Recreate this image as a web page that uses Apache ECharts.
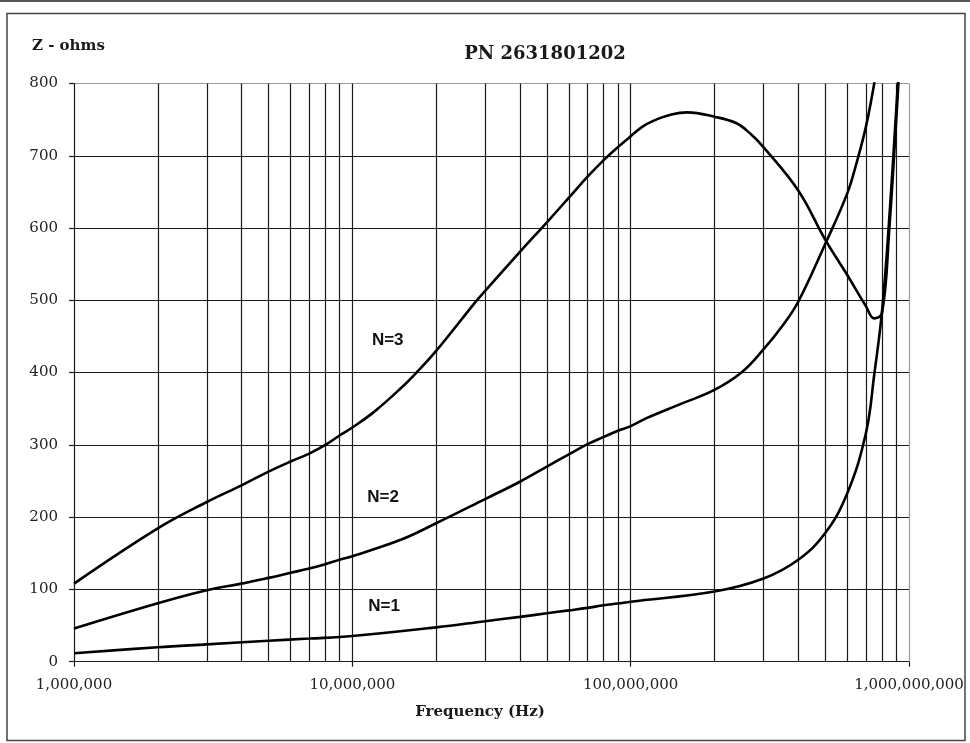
<!DOCTYPE html>
<html>
<head>
<meta charset="utf-8">
<script src="https://cdn.jsdelivr.net/npm/echarts@6/dist/echarts.min.js"></script>
<style>
  html, body { margin: 0; padding: 0; background: #fff; }
  #chart { width: 970px; height: 743px; }
</style>
</head>
<body>
<div id="chart"></div>
<script>
// Impedance vs frequency for 1, 2 and 3 turns through the core
const chartTitle = 'PN 2631801202';
const yAxisTitle = 'Z - ohms';
const xAxisTitle = 'Frequency (Hz)';

const freqN1 = [1e6, 2e6, 3e6, 5e6, 7e6, 1e7, 2e7, 3e7, 4e7, 5e7, 6e7, 7e7, 8e7, 9e7, 1e8, 2e8, 3e8, 4e8, 5e8, 6e8, 7e8, 7.5e8, 8e8, 8.5e8, 9e8, 9.3e8];
const zN1    = [11.6, 20, 24, 29, 32, 35.5, 47.5, 56, 62, 67, 71, 74.5, 78, 80.5, 83, 97, 115, 141, 178, 233, 316, 397, 485, 615, 765, 850];

const freqN2 = [1e6, 2e6, 3e6, 4e6, 5e6, 6e6, 7e6, 8e6, 9e6, 1e7, 1.5e7, 2e7, 3e7, 4e7, 5e7, 6e7, 7e7, 8e7, 9e7, 1e8, 1.14e8, 1.5e8, 2e8, 2.5e8, 3e8, 3.5e8, 4e8, 5e8, 6e8, 6.5e8, 7e8, 7.5e8, 7.8e8];
const zN2    = [46, 81, 99, 108, 116, 123, 129, 135, 141, 146, 169, 191.5, 225, 249, 270, 287, 301, 311, 319.5, 326, 337, 356, 376, 400, 432, 464, 498, 578, 648, 692, 740, 800, 845];

const freqN3 = [1e6, 2e6, 3e6, 4e6, 5e6, 6e6, 7e6, 8e6, 9e6, 1e7, 1.2e7, 1.5e7, 1.7e7, 2e7, 2.8e7, 3e7, 4e7, 5e7, 6e7, 7e7, 8e7, 9e7, 1e8, 1.1e8, 1.2e8, 1.4e8, 1.6e8, 2e8, 2.4e8, 2.7e8, 3e8, 4e8, 5e8, 6e8, 7e8, 7.5e8, 8e8, 8.5e8, 9e8, 9.3e8];
const zN3    = [108, 184.5, 221, 244, 263, 277, 288, 300, 313, 324, 346, 379, 400, 430, 500, 513, 567, 608, 642, 671, 694, 712, 727, 740, 748, 757, 760, 754, 745, 730, 712, 652, 584, 535, 492, 475, 482, 600, 750, 845];

// Curve annotations [frequency, impedance, text]
const curveNotes = [
  [1.34e7, 445, 'N=3'],
  [1.29e7, 228, 'N=2'],
  [1.30e7, 76, 'N=1']
];

const yMin = 0, yMax = 800, yStep = 100;
const xMin = 1e6, xMax = 1e9;

// Vertical grid: every 1..9 x 10^n inside the range, the last edge drawn lighter
const verticalGrid = [];
for (let d = xMin; d < xMax; d *= 10) {
  for (let k = 1; k <= 9; k++) {
    if (k * d > xMin) verticalGrid.push({ xAxis: k * d });
  }
}
verticalGrid.push({ xAxis: xMax, lineStyle: { color: '#9a9a9a' } });

const pairs = (fs, zs) => fs.map((f, i) => [f, zs[i]]);

const serifFont = '"DejaVu Serif", "Liberation Serif", serif';
const ink = '#1a1a1a';

const curveStyle = {
  type: 'line',
  smooth: 0.4,
  showSymbol: false,
  symbol: 'none',
  clip: true,
  silent: true,
  lineStyle: { color: '#000', width: 2.6 },
  emphasis: { disabled: true },
  animation: false,
  z: 3
};

function noteFor(idx) {
  const n = curveNotes[idx];
  return {
    silent: true,
    animation: false,
    symbol: 'circle',
    symbolSize: 1,
    itemStyle: { color: 'rgba(0,0,0,0)' },
    label: {
      show: true,
      position: 'inside',
      formatter: n[2],
      fontFamily: '"Liberation Sans", Arial, sans-serif',
      fontWeight: 'bold',
      fontSize: 17,
      color: '#111'
    },
    data: [{ coord: [n[0], n[1]], value: n[2] }]
  };
}

const chart = echarts.init(document.getElementById('chart'), null, { renderer: 'canvas' });

chart.setOption({
  backgroundColor: '#fff',
  animation: false,
  title: [
    {
      text: chartTitle,
      left: 540,
      top: 40,
      textAlign: 'center',
      textStyle: { fontFamily: serifFont, fontWeight: 'bold', fontSize: 18, color: ink }
    },
    {
      text: yAxisTitle,
      left: 27,
      top: 34,
      textStyle: { fontFamily: serifFont, fontWeight: 'bold', fontSize: 15, color: ink }
    }
  ],
  grid: { left: 74, right: 61, top: 83.5, bottom: 81.3, containLabel: false },
  xAxis: {
    type: 'log',
    logBase: 10,
    min: xMin,
    max: xMax,
    name: xAxisTitle,
    nameLocation: 'middle',
    nameGap: 43,
    nameTextStyle: { fontFamily: serifFont, fontWeight: 'bold', fontSize: 15, color: ink, padding: [0, 23, 0, 0] },
    axisLine: { show: true, lineStyle: { color: ink, width: 1.2 } },
    axisTick: { show: true, length: 5, lineStyle: { color: ink, width: 1.2 } },
    axisLabel: {
      margin: 16,
      fontFamily: serifFont,
      fontSize: 15,
      color: '#222',
      formatter: v => Math.round(v).toLocaleString('en-US')
    },
    splitLine: { show: false },
    minorTick: { show: false },
    minorSplitLine: { show: false }
  },
  yAxis: {
    type: 'value',
    min: yMin,
    max: yMax,
    interval: yStep,
    axisLine: { show: true, lineStyle: { color: ink, width: 1.2 } },
    axisTick: { show: true, length: 5, lineStyle: { color: ink, width: 1.2 } },
    axisLabel: { margin: 16, fontFamily: serifFont, fontSize: 15, color: '#222' },
    splitLine: {
      show: true,
      lineStyle: { color: [ink, ink, ink, ink, ink, ink, ink, ink, '#9a9a9a'], width: 1.2 }
    }
  },
  series: [
    Object.assign({}, curveStyle, {
      name: 'N=1',
      data: pairs(freqN1, zN1),
      markPoint: noteFor(2),
      markLine: {
        silent: true,
        symbol: ['none', 'none'],
        animation: false,
        z: 1,
        label: { show: false },
        lineStyle: { type: 'solid', color: ink, width: 1.2 },
        emphasis: { disabled: true },
        data: verticalGrid
      }
    }),
    Object.assign({}, curveStyle, { name: 'N=2', data: pairs(freqN2, zN2), markPoint: noteFor(1) }),
    Object.assign({}, curveStyle, { name: 'N=3', data: pairs(freqN3, zN3), markPoint: noteFor(0) })
  ],
  graphic: [
    {
      type: 'line',
      silent: true,
      shape: { x1: 0, y1: 1, x2: 970, y2: 1 },
      style: { stroke: '#555', lineWidth: 2 }
    },
    {
      type: 'rect',
      silent: true,
      shape: { x: 7, y: 13.5, width: 958, height: 727 },
      style: { fill: 'none', stroke: '#444', lineWidth: 1.5 }
    }
  ]
});
</script>
</body>
</html>
